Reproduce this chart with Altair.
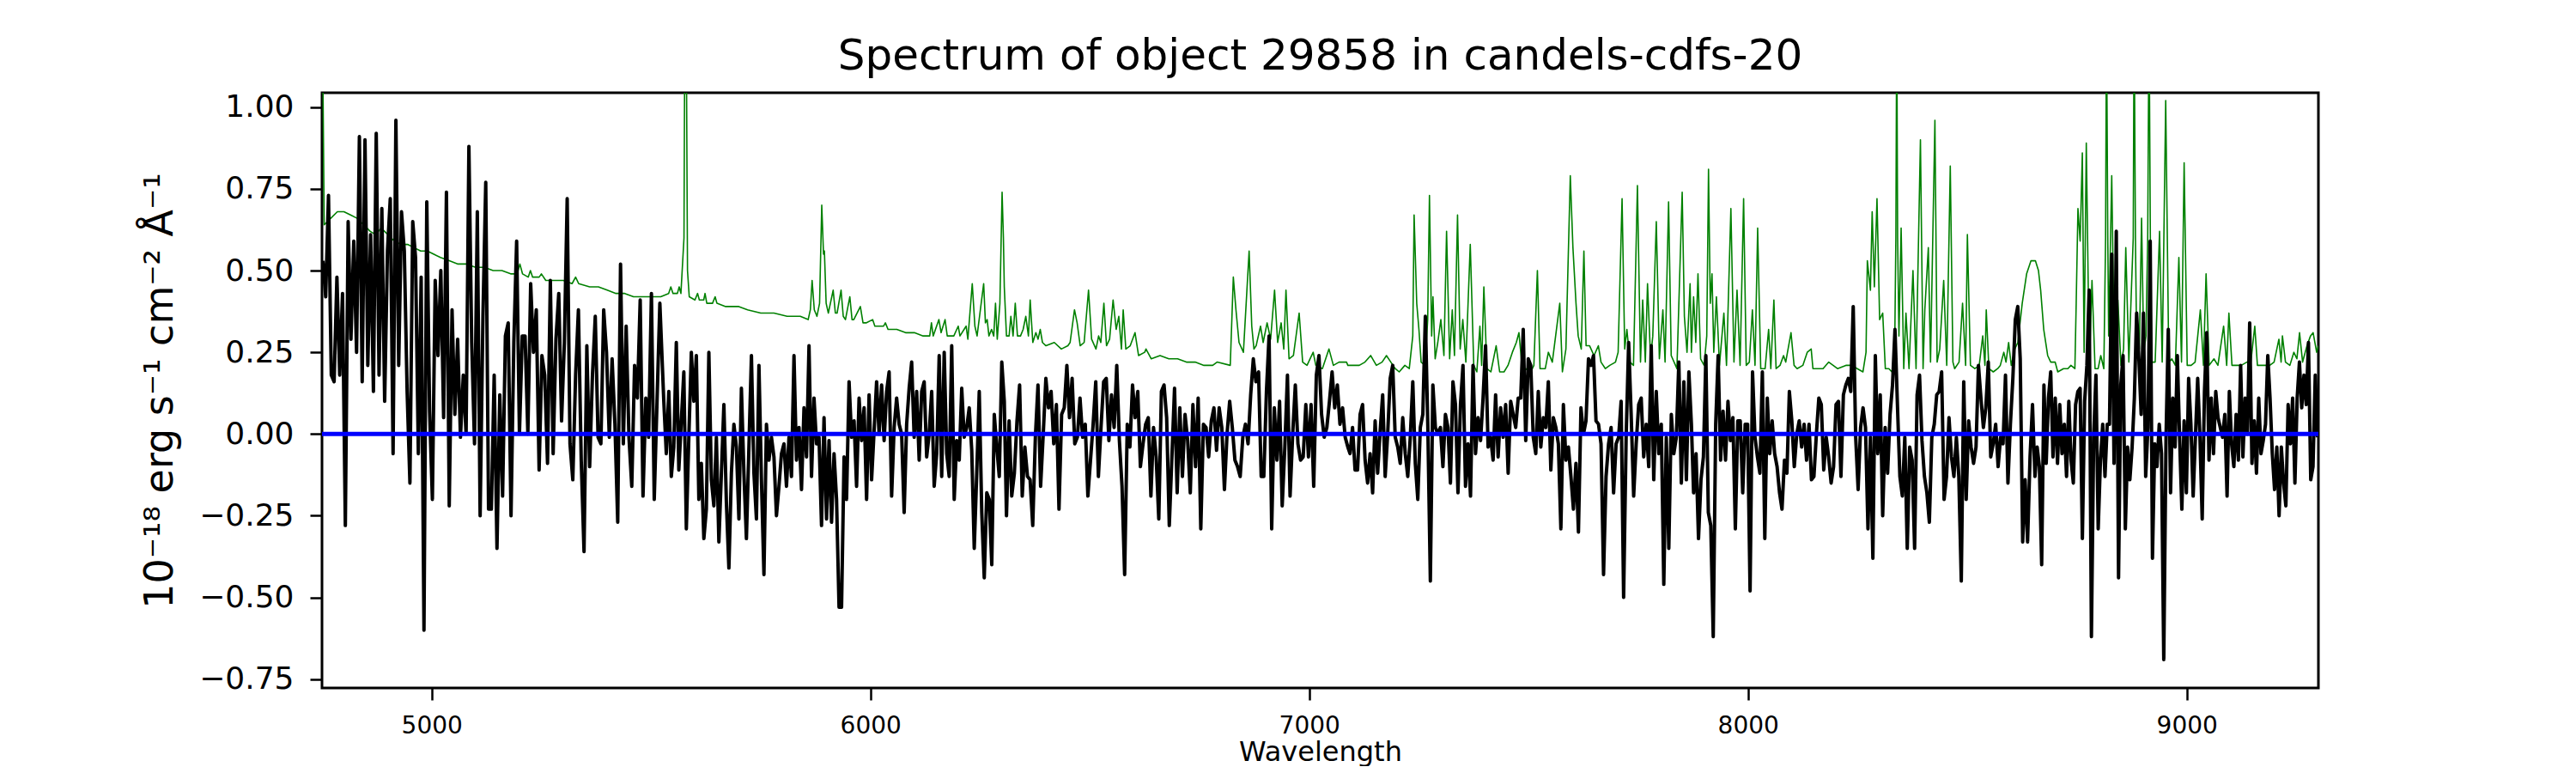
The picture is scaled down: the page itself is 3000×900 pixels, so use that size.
import altair as alt
import numpy as np
import pandas as pd

TITLE = "Spectrum of object 29858 in candels-cdfs-20"
X_TITLE = "Wavelength"
Y_TITLE = "10⁻¹⁸ erg s⁻¹ cm⁻² Å⁻¹"
X_TICKS = [5000, 6000, 7000, 8000, 9000]
Y_TICKS = [-0.75, -0.5, -0.25, 0.0, 0.25, 0.5, 0.75, 1.0]
X_DOMAIN = [4750, 9300]
Y_DOMAIN = [-0.777, 1.044]

# object flux, read segment by segment (first / last wavelength of each segment)
FLUX_BOUNDS = [(4752, 5520), (5529, 6305), (6310, 7088), (7093, 7871), (7876, 8654), (8659, 9298)]
FLUX_1 = [0.53, 0.42, 0.73, 0.18, 0.16, 0.48, 0.18, 0.43, -0.28, 0.65, 0.29, 0.59, 0.25, 0.91, 0.16, 0.90,
          0.21, 0.61, 0.13, 0.92, 0.18, 0.69, 0.10, 0.56, 0.72, -0.06, 0.96, 0.21, 0.68, 0.56, 0.13, -0.15,
          0.65, 0.54, -0.06, 0.48, -0.60, 0.71, 0.07, -0.20, 0.47, 0.24, 0.50, 0.05, 0.74, -0.22, 0.38, 0.06,
          0.29, -0.01, 0.18, 0.00, 0.88, 0.28, -0.03, 0.68, -0.25, 0.36, 0.77, -0.23, -0.23, 0.18, -0.35, 0.12,
          -0.19, 0.30, 0.34, -0.25, 0.28, 0.59, 0.00, 0.30, 0.30, 0.00, 0.46, 0.25, 0.38, -0.11, 0.24, 0.18,
          -0.09, 0.47, -0.06, 0.29, 0.43, 0.04, 0.28, 0.72, -0.03, -0.14, 0.18, 0.38, -0.08, -0.36, 0.27, -0.10,
          0.18, 0.36, -0.01, -0.03, 0.38, 0.25, -0.01, 0.23, 0.03, -0.27, 0.52, -0.03, 0.33, -0.01, -0.16, 0.21,
          0.11, 0.41, -0.19, 0.11, -0.01, 0.43, -0.20, 0.10, 0.40]
FLUX_2 = [0.10, -0.06, 0.13, -0.13, -0.04, 0.28, -0.11, 0.04, 0.19, -0.29, -0.01, 0.25, 0.10, 0.24, -0.20, -0.09,
          -0.32, -0.23, 0.25, -0.14, -0.22, -0.01, -0.33, -0.12, 0.09, -0.21, -0.41, -0.12, 0.03, -0.04, -0.26, 0.14,
          -0.12, -0.32, -0.04, 0.24, -0.12, -0.26, 0.21, -0.14, -0.43, 0.03, -0.08, -0.01, -0.07, -0.25, -0.16, -0.06,
          -0.03, -0.16, -0.01, -0.13, 0.24, -0.08, 0.02, -0.17, 0.08, -0.07, 0.27, -0.13, 0.11, -0.03, -0.01, -0.28,
          0.05, -0.26, -0.02, -0.27, -0.06, -0.20, -0.53, -0.53, -0.07, -0.20, 0.16, -0.01, 0.04, -0.16, 0.11, -0.02,
          0.08, -0.20, 0.12, -0.14, 0.01, 0.16, 0.00, 0.15, -0.02, 0.13, 0.19, -0.19, 0.02, 0.11, 0.03, 0.00,
          -0.24, 0.03, 0.14, 0.22, -0.01, 0.13, -0.08, 0.13, 0.16, -0.07, 0.00, 0.13, -0.16, -0.06, 0.24, -0.13,
          0.25, -0.06, -0.13, 0.27, -0.20, -0.02, -0.08, 0.14, -0.01, 0.02, 0.08, -0.05, -0.35, -0.12, 0.13, -0.24,
          -0.44, -0.18, -0.20, -0.40, 0.06, -0.04, -0.13, 0.22, 0.10]
FLUX_3 = [-0.25, 0.04, -0.19, -0.12, 0.04, 0.15, -0.19, -0.04, -0.13, -0.14, -0.28, -0.01, 0.15, -0.16, 0.00, 0.17,
          0.08, 0.13, -0.03, 0.09, -0.23, 0.06, 0.08, 0.21, 0.05, 0.17, -0.03, -0.01, 0.11, -0.01, 0.03, -0.19,
          -0.08, 0.03, 0.16, -0.13, 0.02, 0.16, 0.17, -0.02, 0.12, 0.02, 0.21, -0.02, -0.16, -0.43, 0.03, -0.04,
          0.15, 0.05, 0.13, -0.10, -0.03, 0.03, 0.05, -0.19, 0.02, -0.07, -0.26, 0.13, 0.15, 0.05, -0.28, -0.07,
          0.14, -0.18, 0.08, -0.13, 0.06, -0.02, -0.18, 0.09, -0.10, 0.11, -0.29, 0.03, 0.02, -0.07, 0.04, 0.08,
          -0.05, 0.08, 0.02, -0.17, 0.00, 0.10, 0.02, -0.08, -0.10, -0.13, -0.01, 0.03, -0.03, 0.12, 0.23, 0.16,
          0.19, -0.13, -0.13, 0.13, 0.30, -0.29, 0.08, -0.08, 0.10, -0.22, -0.04, 0.18, -0.19, 0.00, 0.15, -0.03,
          -0.08, -0.07, 0.09, -0.07, 0.09, -0.16, 0.18, 0.24, 0.06, -0.01, 0.02, 0.10, 0.19, 0.08, 0.15, 0.03,
          0.08, -0.01, -0.04]
FLUX_4 = [-0.06, 0.02, -0.11, -0.11, 0.06, 0.09, -0.08, -0.15, -0.06, -0.18, 0.04, -0.12, 0.01, 0.12, -0.13, 0.00,
          0.17, 0.21, -0.01, -0.04, -0.09, 0.05, -0.06, -0.13, -0.01, 0.16, -0.09, -0.20, 0.02, 0.06, 0.36, 0.02,
          -0.45, 0.15, 0.02, 0.00, 0.02, -0.10, 0.06, 0.02, -0.15, 0.16, 0.09, -0.18, 0.09, 0.21, -0.16, -0.03,
          -0.19, 0.21, -0.06, 0.05, -0.02, 0.11, 0.27, -0.04, -0.01, -0.08, 0.12, -0.07, 0.08, -0.01, 0.09, -0.12,
          0.10, 0.06, 0.02, 0.11, 0.11, 0.32, -0.02, 0.23, 0.21, -0.01, -0.06, 0.13, -0.04, 0.05, 0.02, 0.16,
          -0.11, 0.05, 0.02, -0.03, -0.29, 0.09, -0.08, -0.04, -0.13, -0.23, -0.09, -0.30, 0.08, 0.00, 0.04, 0.23,
          0.21, 0.24, 0.04, 0.03, -0.03, -0.43, -0.13, -0.03, 0.02, -0.18, -0.03, -0.01, 0.10, -0.50, -0.01, 0.28,
          0.06, -0.19, -0.03, 0.09, 0.11, -0.07, 0.03, -0.10, 0.27, -0.14, 0.13, -0.06, 0.03, -0.46, -0.01, -0.35,
          0.06, -0.06, -0.01, 0.22, -0.15, 0.16, -0.14, 0.19, 0.03]
FLUX_5 = [-0.18, -0.06, -0.32, -0.14, -0.07, 0.24, -0.24, -0.28, -0.62, 0.03, 0.24, -0.08, 0.07, -0.08, 0.10, -0.02,
          0.05, -0.29, 0.04, 0.04, -0.18, 0.03, 0.03, -0.48, 0.19, -0.01, -0.07, -0.12, 0.19, -0.32, 0.11, -0.06,
          0.04, -0.06, -0.10, -0.18, -0.23, -0.08, -0.12, 0.13, 0.04, -0.10, 0.00, 0.04, -0.04, 0.03, -0.08, 0.03,
          -0.14, -0.13, 0.00, 0.11, 0.09, -0.11, -0.01, -0.07, -0.15, -0.10, 0.09, 0.10, -0.13, 0.12, 0.15, 0.17,
          0.13, 0.39, -0.01, -0.17, 0.02, 0.08, 0.02, -0.29, -0.01, -0.38, 0.24, -0.06, 0.12, -0.25, 0.02, -0.12,
          0.06, 0.15, 0.32, 0.09, -0.13, -0.19, -0.01, -0.35, -0.04, -0.08, -0.35, 0.12, 0.18, -0.02, -0.13, -0.18,
          -0.27, -0.01, 0.03, 0.12, 0.13, 0.19, -0.20, -0.13, 0.05, -0.07, -0.13, -0.01, -0.13, -0.45, 0.16, -0.20,
          0.04, -0.04, -0.09, -0.04, 0.21, 0.11, 0.02, 0.08, 0.22, -0.07, -0.03, 0.03, -0.10, -0.01, -0.03, 0.18,
          -0.15, 0.03, 0.17, 0.35, 0.39, 0.23, -0.33, -0.14, -0.33, -0.07, 0.09, -0.13]
FLUX_6 = [-0.04, -0.10, -0.40, 0.15, -0.09, 0.11, 0.19, -0.07, 0.11, -0.09, 0.09, -0.06, 0.03, -0.13, 0.10, -0.08,
          -0.15, 0.09, 0.13, 0.14, -0.32, 0.10, 0.21, 0.44, -0.62, -0.01, 0.18, -0.29, -0.08, 0.03, -0.13, 0.03,
          0.03, 0.55, -0.09, 0.62, -0.44, 0.15, 0.24, -0.29, -0.04, -0.14, -0.04, 0.11, 0.37, 0.23, 0.06, 0.37,
          -0.13, 0.02, 0.59, -0.38, -0.03, -0.10, 0.03, -0.06, -0.69, -0.01, 0.32, -0.18, 0.11, -0.04, 0.24, -0.01,
          -0.23, 0.04, -0.18, 0.17, 0.03, -0.19, -0.01, 0.17, -0.01, -0.26, 0.13, 0.31, -0.08, 0.11, -0.06, 0.13,
          0.05, 0.02, -0.01, 0.06, -0.19, 0.13, -0.03, -0.10, 0.06, -0.08, 0.21, -0.07, 0.11, 0.00, 0.34, -0.09,
          0.04, -0.12, 0.11, -0.06, -0.02, 0.03, 0.24, 0.11, -0.06, -0.17, -0.04, -0.25, -0.04, -0.15, -0.22, 0.09,
          -0.03, 0.11, -0.15, 0.11, 0.22, 0.08, 0.18, 0.09, 0.28, -0.14, -0.10, 0.18, -0.01]
FLUX_SEGMENTS = [FLUX_1, FLUX_2, FLUX_3, FLUX_4, FLUX_5, FLUX_6]

# noise / sky spectrum as (wavelength, value) pairs
SKY_1 = [(4749, 1.30), (4752, 1.10), (4755, 0.64), (4770, 0.66), (4785, 0.68), (4800, 0.68), (4815, 0.67),
         (4830, 0.66), (4845, 0.64), (4860, 0.62), (4872, 0.61), (4885, 0.63), (4900, 0.61), (4915, 0.59),
         (4930, 0.58), (4945, 0.58), (4960, 0.57), (4975, 0.56), (4990, 0.56), (5005, 0.55), (5020, 0.54),
         (5040, 0.53), (5060, 0.52), (5080, 0.52), (5100, 0.51), (5120, 0.51), (5140, 0.50), (5160, 0.50),
         (5180, 0.49), (5195, 0.49), (5201, 0.52), (5207, 0.49), (5220, 0.48), (5225, 0.50), (5230, 0.48),
         (5245, 0.48), (5250, 0.49), (5260, 0.47), (5280, 0.47), (5300, 0.47), (5320, 0.46), (5328, 0.48),
         (5335, 0.46), (5360, 0.45), (5380, 0.45), (5400, 0.44), (5420, 0.43), (5440, 0.43), (5460, 0.42),
         (5480, 0.42), (5500, 0.42)]
SKY_2 = [(5522, 0.42), (5540, 0.43), (5545, 0.45), (5550, 0.43), (5560, 0.43), (5564, 0.45), (5568, 0.43),
         (5575, 0.60), (5577, 1.30), (5580, 1.30), (5583, 0.50), (5587, 0.42), (5600, 0.41), (5606, 0.43),
         (5610, 0.41), (5620, 0.41), (5623, 0.43), (5627, 0.40), (5640, 0.40), (5646, 0.42), (5650, 0.40),
         (5670, 0.39), (5700, 0.39), (5720, 0.38), (5750, 0.37), (5780, 0.37), (5810, 0.36), (5840, 0.36),
         (5858, 0.35), (5863, 0.38), (5867, 0.47), (5872, 0.38), (5878, 0.36), (5884, 0.40), (5889, 0.70),
         (5893, 0.55), (5895, 0.56), (5899, 0.40), (5904, 0.37), (5915, 0.44), (5920, 0.37), (5924, 0.37),
         (5933, 0.44), (5938, 0.36), (5943, 0.35), (5953, 0.42), (5958, 0.35), (5962, 0.35), (5977, 0.39),
         (5983, 0.34), (5990, 0.34), (6005, 0.35), (6010, 0.33), (6030, 0.33), (6034, 0.34), (6040, 0.32),
         (6060, 0.32), (6080, 0.31), (6100, 0.31), (6120, 0.30), (6135, 0.30), (6139, 0.34), (6143, 0.30),
         (6156, 0.35), (6161, 0.31), (6170, 0.35), (6175, 0.30), (6190, 0.30), (6200, 0.33), (6204, 0.30),
         (6218, 0.33), (6222, 0.29), (6232, 0.46), (6238, 0.33), (6243, 0.30), (6258, 0.46), (6262, 0.34),
         (6266, 0.35), (6270, 0.30), (6276, 0.32), (6281, 0.30), (6285, 0.40), (6289, 0.29), (6295, 0.40),
         (6300, 0.74), (6303, 0.60)]
SKY_3 = [(6305, 0.45), (6310, 0.30), (6316, 0.30), (6320, 0.36), (6325, 0.30), (6330, 0.40), (6335, 0.30),
         (6342, 0.30), (6348, 0.32), (6354, 0.36), (6360, 0.30), (6364, 0.41), (6370, 0.28), (6377, 0.31),
         (6382, 0.29), (6387, 0.32), (6392, 0.28), (6400, 0.27), (6419, 0.28), (6435, 0.26), (6450, 0.27),
         (6455, 0.28), (6465, 0.38), (6471, 0.34), (6478, 0.27), (6487, 0.28), (6497, 0.44), (6504, 0.29),
         (6514, 0.26), (6520, 0.30), (6525, 0.28), (6532, 0.40), (6538, 0.27), (6545, 0.29), (6553, 0.41),
         (6560, 0.32), (6566, 0.36), (6572, 0.26), (6576, 0.38), (6582, 0.26), (6592, 0.27), (6603, 0.31),
         (6611, 0.24), (6625, 0.25), (6628, 0.26), (6640, 0.23), (6660, 0.24), (6680, 0.23), (6700, 0.23),
         (6720, 0.22), (6740, 0.22), (6760, 0.21), (6780, 0.21), (6790, 0.22), (6820, 0.21), (6827, 0.48),
         (6833, 0.38), (6840, 0.28), (6850, 0.25), (6863, 0.56), (6869, 0.33), (6874, 0.26), (6879, 0.27),
         (6889, 0.33), (6895, 0.28), (6904, 0.34), (6912, 0.29), (6921, 0.44), (6928, 0.28), (6936, 0.34),
         (6942, 0.26), (6947, 0.44), (6954, 0.23), (6964, 0.24), (6977, 0.37), (6985, 0.22), (6995, 0.21),
         (7009, 0.25), (7015, 0.21), (7030, 0.20), (7045, 0.26), (7055, 0.21), (7068, 0.22), (7085, 0.22)]
SKY_4 = [(7088, 0.21), (7114, 0.21), (7127, 0.22), (7140, 0.24), (7153, 0.21), (7166, 0.22), (7176, 0.24),
         (7186, 0.22), (7196, 0.20), (7205, 0.19), (7218, 0.21), (7228, 0.20), (7236, 0.30), (7239, 0.67),
         (7245, 0.40), (7250, 0.32), (7255, 0.22), (7264, 0.21), (7270, 0.35), (7274, 0.73), (7279, 0.30),
         (7282, 0.42), (7287, 0.23), (7293, 0.28), (7300, 0.35), (7307, 0.24), (7313, 0.62), (7320, 0.23),
         (7326, 0.38), (7331, 0.24), (7338, 0.67), (7344, 0.26), (7350, 0.35), (7357, 0.22), (7367, 0.58),
         (7375, 0.21), (7382, 0.19), (7389, 0.33), (7393, 0.21), (7398, 0.45), (7405, 0.20), (7414, 0.19),
         (7426, 0.27), (7434, 0.19), (7444, 0.19), (7453, 0.21), (7463, 0.25), (7472, 0.28), (7478, 0.31),
         (7486, 0.19), (7496, 0.20), (7505, 0.19), (7512, 0.21), (7520, 0.50), (7526, 0.20), (7538, 0.20),
         (7545, 0.25), (7554, 0.22), (7571, 0.40), (7577, 0.19), (7585, 0.26), (7595, 0.79), (7601, 0.57),
         (7608, 0.40), (7613, 0.30), (7620, 0.26), (7626, 0.56), (7631, 0.27), (7639, 0.27), (7649, 0.24),
         (7659, 0.27), (7665, 0.22), (7675, 0.20), (7685, 0.21), (7698, 0.22), (7704, 0.25), (7713, 0.72),
         (7719, 0.26), (7724, 0.32), (7731, 0.22), (7739, 0.21), (7748, 0.76), (7755, 0.22), (7760, 0.41),
         (7766, 0.22), (7771, 0.46), (7778, 0.23), (7783, 0.30), (7791, 0.65), (7798, 0.23), (7806, 0.38),
         (7811, 0.22), (7819, 0.71), (7825, 0.24), (7838, 0.20), (7850, 0.74), (7855, 0.36), (7861, 0.25),
         (7868, 0.46), (7871, 0.25)]
SKY_5 = [(7876, 0.42), (7881, 0.28), (7886, 0.49), (7892, 0.23), (7900, 0.21), (7906, 0.30), (7910, 0.81),
         (7914, 0.40), (7918, 0.49), (7922, 0.25), (7928, 0.42), (7935, 0.21), (7945, 0.37), (7951, 0.21),
         (7961, 0.69), (7968, 0.22), (7975, 0.44), (7982, 0.21), (7990, 0.72), (7996, 0.21), (8003, 0.22),
         (8010, 0.38), (8016, 0.21), (8022, 0.63), (8029, 0.20), (8039, 0.20), (8047, 0.32), (8052, 0.20),
         (8059, 0.41), (8064, 0.20), (8073, 0.21), (8081, 0.24), (8086, 0.22), (8098, 0.31), (8105, 0.21),
         (8112, 0.20), (8125, 0.21), (8135, 0.25), (8144, 0.26), (8148, 0.20), (8158, 0.20), (8171, 0.20),
         (8184, 0.22), (8194, 0.21), (8204, 0.20), (8223, 0.21), (8236, 0.21), (8249, 0.20), (8262, 0.19),
         (8269, 0.25), (8272, 0.53), (8279, 0.44), (8283, 0.68), (8288, 0.45), (8294, 0.72), (8300, 0.35),
         (8307, 0.37), (8313, 0.20), (8321, 0.20), (8328, 0.19), (8334, 0.22), (8337, 0.60), (8339, 1.30),
         (8341, 0.60), (8344, 0.30), (8349, 0.63), (8355, 0.20), (8360, 0.37), (8367, 0.20), (8376, 0.50),
         (8383, 0.20), (8393, 0.90), (8399, 0.20), (8403, 0.38), (8411, 0.57), (8416, 0.22), (8426, 0.96),
         (8431, 0.22), (8437, 0.26), (8446, 0.47), (8453, 0.21), (8461, 0.82), (8467, 0.22), (8471, 0.20),
         (8481, 0.22), (8489, 0.40), (8496, 0.21), (8500, 0.61), (8507, 0.21), (8517, 0.20), (8527, 0.21),
         (8535, 0.30), (8540, 0.21), (8543, 0.38), (8549, 0.20), (8559, 0.19), (8569, 0.20), (8575, 0.21),
         (8583, 0.25), (8588, 0.22), (8594, 0.28), (8600, 0.21), (8608, 0.26), (8615, 0.28), (8625, 0.40),
         (8635, 0.49), (8645, 0.53), (8655, 0.53)]
SKY_6 = [(8662, 0.50), (8667, 0.44), (8674, 0.32), (8683, 0.24), (8690, 0.22), (8700, 0.22), (8706, 0.19),
         (8719, 0.20), (8729, 0.20), (8736, 0.21), (8745, 0.20), (8748, 0.40), (8752, 0.69), (8757, 0.59),
         (8762, 0.86), (8766, 0.25), (8771, 0.89), (8778, 0.20), (8784, 0.47), (8791, 0.20), (8798, 0.20),
         (8804, 0.24), (8811, 0.20), (8815, 0.60), (8817, 1.30), (8820, 0.60), (8822, 0.30), (8829, 0.79),
         (8835, 0.22), (8843, 0.41), (8850, 0.21), (8856, 0.26), (8861, 0.57), (8868, 0.22), (8878, 0.60),
         (8880, 1.30), (8883, 0.60), (8886, 0.25), (8892, 0.26), (8897, 0.66), (8902, 0.25), (8907, 0.30),
         (8911, 0.60), (8914, 1.30), (8917, 0.60), (8920, 0.22), (8928, 0.22), (8938, 0.62), (8944, 0.22),
         (8952, 1.02), (8959, 0.22), (8966, 0.23), (8974, 0.21), (8982, 0.54), (8988, 0.22), (8994, 0.83),
         (9001, 0.21), (9010, 0.21), (9019, 0.22), (9031, 0.38), (9038, 0.21), (9044, 0.49), (9051, 0.21),
         (9062, 0.23), (9071, 0.21), (9084, 0.33), (9091, 0.21), (9096, 0.37), (9103, 0.21), (9111, 0.21),
         (9124, 0.21), (9137, 0.22), (9146, 0.22), (9155, 0.33), (9161, 0.21), (9176, 0.21), (9189, 0.21),
         (9199, 0.22), (9210, 0.29), (9215, 0.22), (9218, 0.30), (9225, 0.22), (9235, 0.21), (9244, 0.25),
         (9251, 0.23), (9257, 0.31), (9264, 0.22), (9274, 0.27), (9282, 0.30), (9288, 0.31), (9296, 0.25),
         (9300, 0.27)]
SKY_SEGMENTS = [SKY_1, SKY_2, SKY_3, SKY_4, SKY_5, SKY_6]
ZERO_LEVEL = [0.0]

# ---- tables ----
flux_wave, flux_val = [], []
for (lo, hi), vals in zip(FLUX_BOUNDS, FLUX_SEGMENTS):
    flux_wave.extend(np.linspace(lo, hi, len(vals)).tolist())
    flux_val.extend(vals)
flux_df = pd.DataFrame({"wave": flux_wave, "flux": flux_val, "order": range(len(flux_val))})

sky_pairs = [p for seg in SKY_SEGMENTS for p in seg]
sky_df = pd.DataFrame({"wave": [p[0] for p in sky_pairs], "flux": [p[1] for p in sky_pairs],
                       "order": range(len(sky_pairs))})
zero_df = pd.DataFrame({"flux": ZERO_LEVEL})

FONT = "DejaVu Sans"
x_scale = alt.Scale(domain=X_DOMAIN, nice=False, zero=False)
y_scale = alt.Scale(domain=Y_DOMAIN, nice=False, zero=False)
x_axis = alt.Axis(values=X_TICKS, format="d", title=X_TITLE, grid=False, domain=False,
                  labelFontSize=28, labelPadding=16, tickSize=14, tickWidth=2.5, tickColor="black",
                  labelColor="black", labelFont=FONT, titleFont=FONT, titleFontSize=32,
                  titleFontWeight="normal", titleColor="black", titleBaseline="alphabetic",
                  titleY=84, titleX=1162.5, titleAnchor="middle", labelFlush=False)
y_axis = alt.Axis(values=Y_TICKS, format=".2f", title=Y_TITLE, grid=False, domain=False,
                  labelFontSize=36, labelPadding=19, tickSize=14, tickWidth=2.5, tickColor="black",
                  labelColor="black", labelFont=FONT, titleFont=FONT, titleFontSize=46,
                  titleFontWeight="normal", titleColor="black", titleAngle=270, titleX=-189,
                  titleY=346.5, titleAlign="center", titleBaseline="middle", labelFlush=False)

sky = alt.Chart(sky_df).mark_line(color="#008000", strokeWidth=1.6, clip=True, strokeJoin="round").encode(
    x=alt.X("wave:Q", scale=x_scale, axis=x_axis),
    y=alt.Y("flux:Q", scale=y_scale, axis=y_axis),
    order="order:Q",
)
obj = alt.Chart(flux_df).mark_line(color="#000000", strokeWidth=4, clip=True, strokeJoin="round").encode(
    x=alt.X("wave:Q", scale=x_scale, axis=x_axis),
    y=alt.Y("flux:Q", scale=y_scale, axis=y_axis),
    order="order:Q",
)
zero = alt.Chart(zero_df).mark_rule(color="#0000ff", strokeWidth=5).encode(
    y=alt.Y("flux:Q", scale=y_scale, axis=y_axis),
)

chart = alt.layer(sky, obj, zero).properties(
    width=2325,
    height=693,
    title=alt.TitleParams(TITLE, font=FONT, fontSize=50, fontWeight="normal", color="black",
                          anchor="middle", baseline="alphabetic", offset=25, frame="group", dy=49),
    autosize=alt.AutoSizeParams(type="none"),
    padding={"left": 367, "top": 100, "right": 292, "bottom": 91},
    background="white",
).configure_view(stroke="black", strokeWidth=3)

chart.save("out.html", embed_options={"renderer": "svg", "actions": False})
